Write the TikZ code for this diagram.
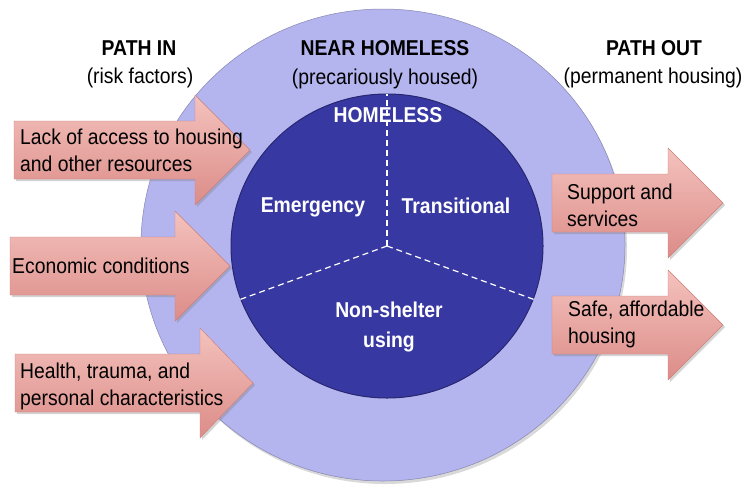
\documentclass[tikz,border=0pt]{standalone}
\usepackage{fontspec}
\setmainfont{Liberation Sans}[FakeStretch=0.9]
\usetikzlibrary{shapes.geometric,shadows}

\definecolor{nearcol}{RGB}{180,180,238}
\definecolor{homecol}{RGB}{56,56,162}
\definecolor{pinktop}{RGB}{244,194,189}
\definecolor{pinkbot}{RGB}{220,140,136}
\definecolor{pinkline}{RGB}{205,128,124}

\tikzset{
  pinkarrow/.style={top color=pinktop, bottom color=pinkbot, draw=pinkline, line width=0.4,
    drop shadow={shadow xshift=2pt, shadow yshift=-2pt, opacity=0.35}},
  headtext/.style={font=\fontsize{21.5}{27}\selectfont\bfseries, align=center},
  subtext/.style={font=\fontsize{21.5}{27}\selectfont, align=center},
  intext/.style={font=\fontsize{21.5}{30}\selectfont\bfseries, text=white, align=center},
  arrowtext/.style={font=\fontsize{21.5}{27}\selectfont, align=left, anchor=west, inner sep=0pt},
  sector/.style={white, line width=1.2, dash pattern=on 6pt off 4pt},
}

% tail x, centre y, neck x, tip x
\newcommand{\pathArrow}[4]{%
  \draw[pinkarrow] (#1,#2-29) -- (#3,#2-29) -- (#3,#2-55) -- (#4,#2)
    -- (#3,#2+55) -- (#3,#2+29) -- (#1,#2+29) -- cycle;
}

\begin{document}
\begin{tikzpicture}[x=1pt,y=-1pt]
\useasboundingbox (0,0) rectangle (743,485);

% near homeless ring
\node[ellipse, minimum width=484, minimum height=472, fill=nearcol, draw=nearcol!75!black, line width=0.5,
  drop shadow={shadow xshift=2pt, shadow yshift=-3pt, opacity=0.3}] (near) at (383,245) {};

% paths in
\pathArrow{14}{150}{195}{250}
\pathArrow{10}{266}{175}{230}
\pathArrow{15}{383}{200}{253}
% paths out
\pathArrow{552}{203}{668}{723}
\pathArrow{552}{325}{668}{723}

% homeless disc
\node[ellipse, minimum width=312, minimum height=304, fill=homecol, draw=homecol!70!black, line width=1] (homeless) at (387,246) {};

\node[headtext] (pathin) at (139,48) {PATH IN};
\node[subtext] (risk) at (140,78) {(risk factors)};
\node[headtext] (nearlbl) at (385,48) {NEAR HOMELESS};
\node[subtext] (precarious) at (385,79) {(precariously housed)};
\node[headtext] (pathout) at (654,48) {PATH OUT};
\node[subtext] (permanent) at (653,78) {(permanent housing)};

\node[intext] (homelbl) at (388,115) {HOMELESS};
\node[intext] (emerg) at (313,207) {Emergency};
\node[intext] (trans) at (456,206) {Transitional};
\node[intext] (nonshelter) at (389,327) {Non-shelter\\using};

\draw[sector] (homeless.center) -- (homeless.90);
\draw[sector] (homeless.center) -- (homeless.200);
\draw[sector] (homeless.center) -- (homeless.340);

\node[arrowtext] (lack) at (20,150) {Lack of access to housing\\and other resources};
\node[arrowtext] (econ) at (12,266) {Economic conditions};
\node[arrowtext] (health) at (20,386) {Health, trauma, and\\personal characteristics};
\node[arrowtext] (support) at (567,205) {Support and\\services};
\node[arrowtext] (safe) at (568,324) {Safe, affordable\\housing};
\end{tikzpicture}
\end{document}
